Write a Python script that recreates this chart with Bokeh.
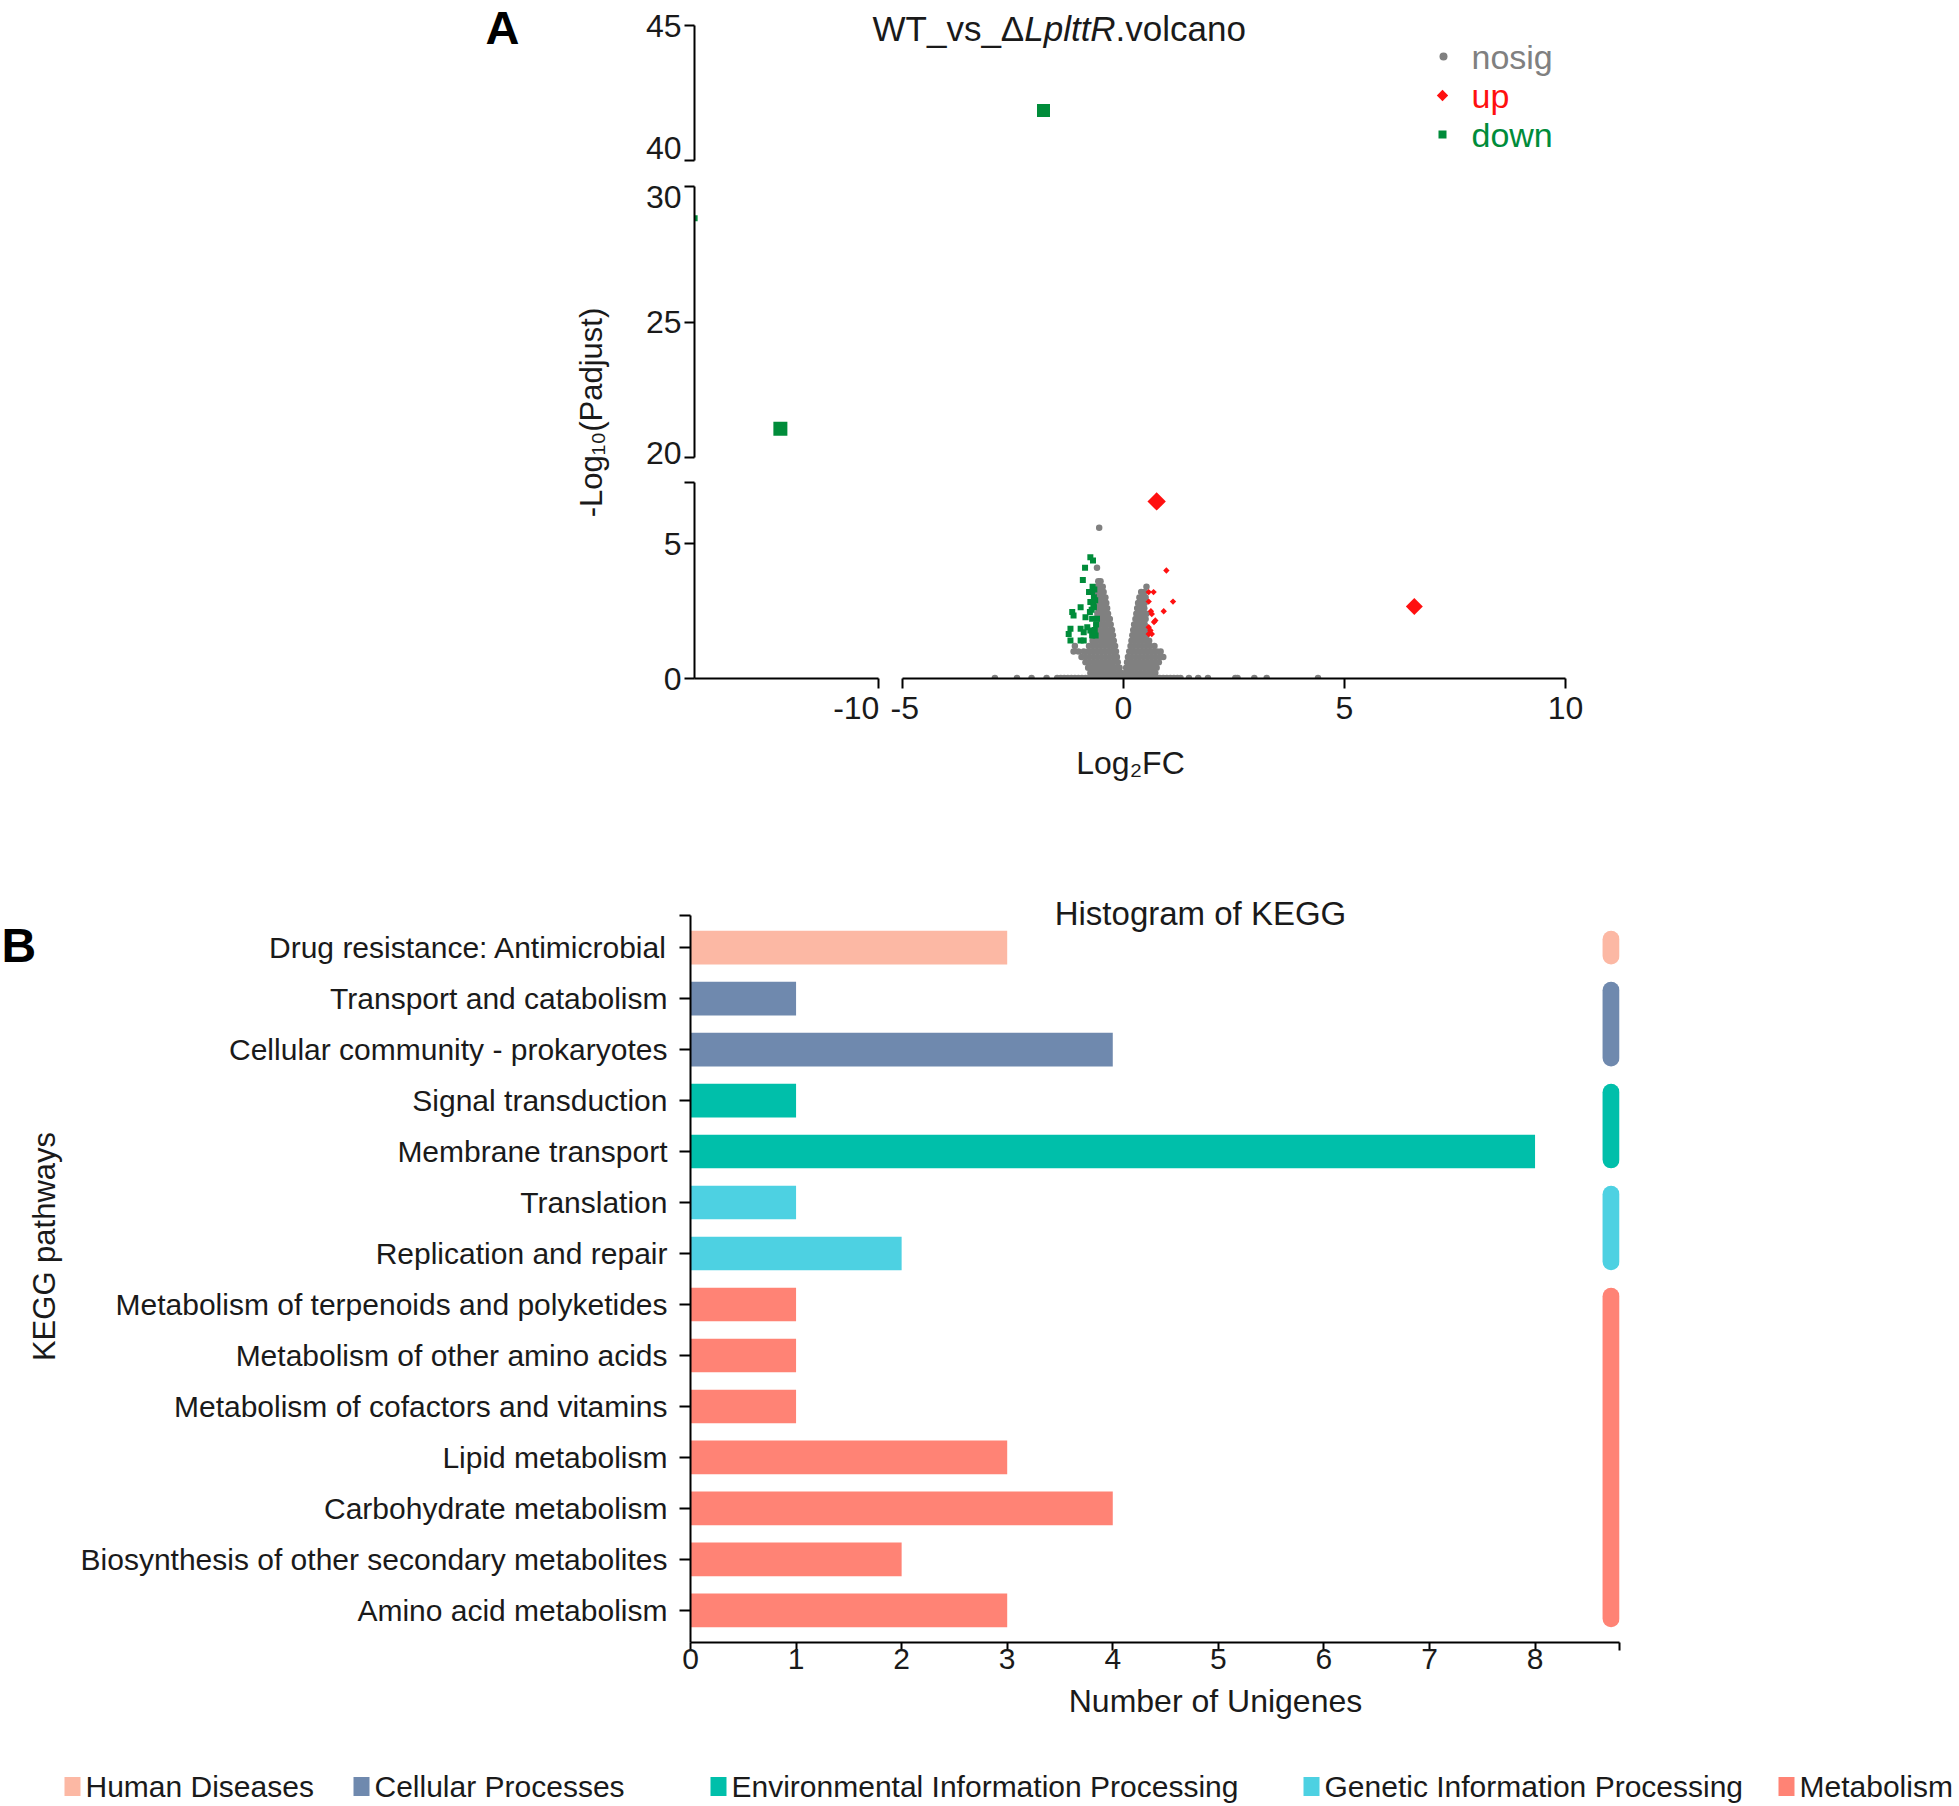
import math
from bokeh.plotting import figure
from bokeh.layouts import column, row
from bokeh.models import Range1d, FixedTicker, Label
from bokeh.core.properties import value
from bokeh.embed import file_html
from bokeh.resources import INLINE

# ============================ DATA ============================
volcano_title = ["WT_vs_\u0394", "LplttR", ".volcano"]
volcano_classes = ["nosig", "up", "down"]

# nosig genes (log2FC, -log10 Padjust)
nosig_points = [
    (-2.91, 0.02), (-2.41, 0.02), (-2.08, 0.02), (-1.74, 0.02), (-1.50, 0.02), (-1.42, 0.02),
    (-1.34, 0.02), (-1.26, 0.02), (-1.18, 0.02), (-1.10, 0.02), (-1.02, 0.02), (-0.94, 0.02),
    (-0.86, 0.02), (-0.78, 0.02), (-0.70, 0.02), (-0.62, 0.02), (-0.54, 0.02), (-0.46, 0.02),
    (-0.38, 0.02), (-0.30, 0.02), (-0.22, 0.02), (-0.14, 0.02), (-0.06, 0.02), (0.02, 0.02),
    (0.10, 0.02), (0.18, 0.02), (0.26, 0.02), (0.34, 0.02), (0.42, 0.02), (0.50, 0.02),
    (0.58, 0.02), (0.66, 0.02), (0.74, 0.02), (0.82, 0.02), (0.90, 0.02), (0.98, 0.02),
    (1.06, 0.02), (1.14, 0.02), (1.22, 0.02), (1.29, 0.02), (1.48, 0.02), (1.69, 0.02),
    (1.91, 0.02), (2.53, 0.02), (2.58, 0.02), (2.96, 0.02), (3.24, 0.02), (4.40, 0.02),
    (-0.75, 0.2), (-0.66, 0.2), (-0.57, 0.2), (-0.48, 0.2), (-0.39, 0.2), (-0.30, 0.2), (-0.21, 0.2), (-0.12, 0.2), (-0.05, 0.2),
    (-0.80, 0.4), (-0.71, 0.4), (-0.62, 0.4), (-0.53, 0.4), (-0.44, 0.4), (-0.35, 0.4), (-0.26, 0.4), (-0.17, 0.4), (-0.09, 0.4),
    (-0.86, 0.6), (-0.77, 0.6), (-0.68, 0.6), (-0.59, 0.6), (-0.50, 0.6), (-0.41, 0.6), (-0.32, 0.6), (-0.23, 0.6), (-0.13, 0.6),
    (-0.95, 0.8), (-0.86, 0.8), (-0.77, 0.8), (-0.68, 0.8), (-0.59, 0.8), (-0.50, 0.8), (-0.41, 0.8), (-0.32, 0.8), (-0.23, 0.8), (-0.15, 0.8),
    (-1.13, 1.0), (-1.02, 1.0), (-0.90, 1.0), (-0.80, 1.0), (-0.70, 1.0), (-0.61, 1.0), (-0.52, 1.0), (-0.43, 1.0), (-0.34, 1.0), (-0.25, 1.0), (-0.17, 1.0),
    (-1.10, 1.2), (-0.78, 1.2), (-0.69, 1.2), (-0.60, 1.2), (-0.51, 1.2), (-0.42, 1.2), (-0.33, 1.2), (-0.25, 1.2), (-0.19, 1.2),
    (-0.70, 1.4), (-0.62, 1.4), (-0.54, 1.4), (-0.46, 1.4), (-0.38, 1.4), (-0.30, 1.4), (-0.22, 1.4),
    (-0.64, 1.6), (-0.56, 1.6), (-0.48, 1.6), (-0.40, 1.6), (-0.32, 1.6), (-0.24, 1.6),
    (-0.62, 1.8), (-0.54, 1.8), (-0.46, 1.8), (-0.38, 1.8), (-0.30, 1.8), (-0.26, 1.8),
    (-0.61, 2.0), (-0.53, 2.0), (-0.45, 2.0), (-0.37, 2.0), (-0.29, 2.0),
    (-0.60, 2.2), (-0.52, 2.2), (-0.44, 2.2), (-0.36, 2.2), (-0.31, 2.2),
    (-0.59, 2.4), (-0.51, 2.4), (-0.43, 2.4), (-0.35, 2.4),
    (-0.58, 2.6), (-0.51, 2.6), (-0.44, 2.6), (-0.37, 2.6),
    (-0.58, 2.8), (-0.51, 2.8), (-0.44, 2.8), (-0.39, 2.8),
    (-0.58, 3.0), (-0.51, 3.0), (-0.44, 3.0), (-0.41, 3.0),
    (-0.59, 3.2), (-0.52, 3.2), (-0.45, 3.2),
    (-0.60, 3.4), (-0.53, 3.4), (-0.47, 3.4),
    (-0.57, 3.6), (-0.52, 3.6),
    (-0.60, 4.10), (-0.55, 5.58),
    (0.04, 0.2), (0.12, 0.2), (0.20, 0.2), (0.29, 0.2), (0.38, 0.2), (0.47, 0.2), (0.56, 0.2), (0.65, 0.2), (0.72, 0.2),
    (0.06, 0.4), (0.14, 0.4), (0.23, 0.4), (0.32, 0.4), (0.41, 0.4), (0.50, 0.4), (0.59, 0.4), (0.68, 0.4), (0.75, 0.4),
    (0.08, 0.6), (0.17, 0.6), (0.26, 0.6), (0.35, 0.6), (0.44, 0.6), (0.53, 0.6), (0.62, 0.6), (0.71, 0.6), (0.80, 0.6),
    (0.10, 0.8), (0.19, 0.8), (0.28, 0.8), (0.37, 0.8), (0.46, 0.8), (0.55, 0.8), (0.64, 0.8), (0.73, 0.8), (0.82, 0.8), (0.90, 0.8),
    (0.13, 1.0), (0.22, 1.0), (0.31, 1.0), (0.40, 1.0), (0.49, 1.0), (0.58, 1.0), (0.67, 1.0), (0.76, 1.0), (0.84, 1.0),
    (0.16, 1.2), (0.24, 1.2), (0.33, 1.2), (0.42, 1.2), (0.51, 1.2), (0.60, 1.2), (0.70, 1.2),
    (0.18, 1.4), (0.26, 1.4), (0.34, 1.4), (0.42, 1.4), (0.50, 1.4), (0.58, 1.4),
    (0.20, 1.6), (0.28, 1.6), (0.36, 1.6), (0.44, 1.6), (0.52, 1.6),
    (0.22, 1.8), (0.30, 1.8), (0.38, 1.8), (0.46, 1.8), (0.53, 1.8),
    (0.24, 2.0), (0.32, 2.0), (0.40, 2.0), (0.48, 2.0),
    (0.27, 2.2), (0.35, 2.2), (0.43, 2.2), (0.50, 2.2),
    (0.29, 2.4), (0.37, 2.4), (0.45, 2.4), (0.52, 2.4),
    (0.31, 2.6), (0.39, 2.6), (0.47, 2.6),
    (0.33, 2.8), (0.41, 2.8), (0.48, 2.8),
    (0.36, 3.0), (0.44, 3.0), (0.50, 3.0),
    (0.40, 3.2), (0.48, 3.2),
    (0.52, 3.4),
]

# up-regulated genes
up_points = [
    (0.97, 4.00), (0.57, 3.20), (0.68, 3.20), (1.12, 2.85), (0.57, 2.85), (0.91, 2.49),
    (0.62, 2.49), (0.64, 2.39), (0.72, 2.15), (0.69, 2.09), (0.57, 1.90), (0.61, 1.78),
    (0.57, 1.65), (0.64, 1.65),
    (0.75, 6.56), (6.58, 2.67),
]

# down-regulated genes
down_points = [
    (-0.75, 4.49), (-0.69, 4.37), (-0.87, 4.10), (-0.92, 3.65), (-0.71, 3.20), (-0.78, 3.20),
    (-0.67, 3.01), (-0.75, 2.83), (-0.67, 2.64), (-0.97, 2.64), (-1.16, 2.46), (-1.13, 2.33),
    (-0.76, 2.46), (-0.86, 2.27), (-0.71, 2.21), (-0.60, 2.21), (-1.20, 1.84), (-1.24, 1.65),
    (-0.97, 1.84), (-0.90, 1.71), (-0.82, 1.90), (-0.75, 1.78), (-0.71, 1.59), (-1.20, 1.41),
    (-0.97, 1.41), (-0.90, 1.41), (-0.63, 1.59), (-0.66, 3.30), (-0.70, 3.40), (-0.64, 2.90),
    (-0.68, 2.70), (-0.72, 2.55), (-0.62, 2.00), (-0.65, 1.80),
    (-1.81, 41.85), (-12.22, 21.06), (-14.16, 28.83),
]

# broken-axis segments
y_seg_upper = (40, 45)
y_seg_middle = (20, 30)
y_seg_lower = (0, 7.26)
x_seg_left = (-14.163, -10)
x_seg_right = (-5, 10)
y_ticks_upper = [40, 45]
y_ticks_middle = [20, 25, 30]
y_ticks_lower = [0, 5]
x_ticks_left = [-10]
x_ticks_right = [-5, 0, 5, 10]

# KEGG histogram (top to bottom)
kegg_terms = [
    "Drug resistance: Antimicrobial",
    "Transport and catabolism",
    "Cellular community - prokaryotes",
    "Signal transduction",
    "Membrane transport",
    "Translation",
    "Replication and repair",
    "Metabolism of terpenoids and polyketides",
    "Metabolism of other amino acids",
    "Metabolism of cofactors and vitamins",
    "Lipid metabolism",
    "Carbohydrate metabolism",
    "Biosynthesis of other secondary metabolites",
    "Amino acid metabolism",
]
kegg_counts = [3, 1, 4, 1, 8, 1, 2, 1, 1, 1, 3, 4, 2, 3]
kegg_class = [
    "Human Diseases", "Cellular Processes", "Cellular Processes",
    "Environmental Information Processing", "Environmental Information Processing",
    "Genetic Information Processing", "Genetic Information Processing",
    "Metabolism", "Metabolism", "Metabolism", "Metabolism", "Metabolism", "Metabolism", "Metabolism",
]
class_names = ["Human Diseases", "Cellular Processes", "Environmental Information Processing",
               "Genetic Information Processing", "Metabolism"]
kegg_x_ticks = [0, 1, 2, 3, 4, 5, 6, 7, 8]

# ============================ STYLE ============================
FONT = "Liberation Sans"
INK = "#1a1a1a"
C_NOSIG, C_UP, C_DOWN = "#808080", "#ff1010", "#008c3a"
class_colors = ["#fcb8a4", "#6f89ae", "#00bfaa", "#4dd1e2", "#ff8375"]
nosig_px = [6.5] * len(nosig_points)
up_px = [4.5] * 14 + [13, 12]
down_px = [6] * 34 + [13, 14, 6]

# page layout (pixels, page origin at top-left)
PAGE_W, PAGE_H = 1959, 1806
VX_L0, VX_L1, VX_R0, VX_R1 = 694, 878, 902, 1565
VY_U1, VY_M0, VY_M1, VY_L0, VY_L1 = 160, 186, 457, 482, 678
PX_PER_X = (VX_R1 - VX_R0) / (x_seg_right[1] - x_seg_right[0])
PX_PER_Y = 27.0
COL_SPLIT = 628          # label column | plots
LR_SPLIT = 890           # lower-left | lower-right
ROW_UM, ROW_ML, L_BOT, V_BOT = 173, 470, 736, 800


def pmap(p0, p1, d0, d1):
    return lambda px: d0 + (px - p0) * (d1 - d0) / (p1 - p0)


def make_fig(w, h, xr, yr, bl, br, bt, bb, xaxis=True, yaxis=True):
    p = figure(width=w, height=h, x_range=Range1d(*xr), y_range=Range1d(*yr),
               output_backend="svg", toolbar_location=None,
               x_axis_location="below" if xaxis else None,
               y_axis_location="left" if yaxis else None,
               min_border_left=bl, min_border_right=br, min_border_top=bt, min_border_bottom=bb)
    p.frame_align = False
    p.xgrid.visible = False
    p.ygrid.visible = False
    p.outline_line_color = None
    p.background_fill_color = "white"
    p.border_fill_color = "white"
    return p


def style_axis(ax, ticks, size, standoff, tick_out=10, overrides=None, bounds=None):
    ax.ticker = FixedTicker(ticks=ticks)
    ax.axis_line_width = 2
    ax.axis_line_color = "black"
    ax.major_tick_line_width = 2
    ax.major_tick_line_color = "black"
    ax.major_tick_out = tick_out
    ax.major_tick_in = 0
    ax.minor_tick_out = 0
    ax.minor_tick_in = 0
    ax.major_label_text_font = FONT
    ax.major_label_text_font_size = size
    ax.major_label_text_color = INK
    ax.major_label_standoff = standoff
    if overrides:
        ax.major_label_overrides = overrides
    if bounds:
        ax.bounds = bounds


def dash_labels(ticks):
    return {t: str(t) for t in ticks}


series = [
    (nosig_points, nosig_px, C_NOSIG, "circle", 0.0),
    (down_points, down_px, C_DOWN, "square", 0.0),
    (up_points, up_px, C_UP, "square", math.pi / 4),
]


def draw_points(p, xr, yr):
    for pts, sizes, color, marker, ang in series:
        sel = [(x, y, s) for (x, y), s in zip(pts, sizes)
               if xr[0] - 0.01 <= x <= xr[1] + 0.01 and yr[0] - 0.01 <= y <= yr[1] + 0.01]
        if sel:
            p.scatter(x=[a[0] for a in sel], y=[a[1] for a in sel], size=[a[2] for a in sel],
                      marker=marker, angle=ang, fill_color=color, line_color=None)


# ---------------- volcano: upper segment (40-45), frame reaches page top ----------------
u_x0 = x_seg_right[0] - (VX_R0 - VX_L0) / PX_PER_X
u_y1 = y_seg_upper[0] + VY_U1 / PX_PER_Y
U = make_fig(PAGE_W - COL_SPLIT, ROW_UM, (u_x0, x_seg_right[1]), (y_seg_upper[0], u_y1),
             VX_L0 - COL_SPLIT, PAGE_W - VX_R1, 0, ROW_UM - VY_U1, xaxis=False)
# the label at the break edge sits slightly above its tick (as in the original)
style_axis(U.yaxis[0], y_ticks_upper, "32px", 3, bounds=y_seg_upper,
           overrides={y_ticks_upper[0]: f"{y_ticks_upper[0]}\n", y_ticks_upper[1]: f"{y_ticks_upper[1]}"})
U.yaxis[0].major_label_text_line_height = 0.2
draw_points(U, (u_x0, x_seg_right[1]), y_seg_upper)
ux = pmap(VX_L0, VX_R1, u_x0, x_seg_right[1])
uy = pmap(0, VY_U1, u_y1, y_seg_upper[0])

# title with italic strain name
title_x = [872, 872 + 151.7, 872 + 151.7 + 91.4]
for txt, px, style in zip(volcano_title, title_x, ["normal", "italic", "normal"]):
    U.add_layout(Label(x=ux(px), y=uy(28), text=txt, text_font=FONT, text_font_size="35px",
                       text_font_style=style, text_color=INK, text_align="left", text_baseline="middle"))

# legend
leg_y = [56, 95, 134]
U.scatter(x=[ux(1443)], y=[uy(leg_y[0])], size=8, marker="circle", fill_color=C_NOSIG, line_color=None)
U.scatter(x=[ux(1442)], y=[uy(leg_y[1])], size=8, marker="square", angle=math.pi / 4, fill_color=C_UP, line_color=None)
U.scatter(x=[ux(1442)], y=[uy(leg_y[2])], size=8, marker="square", fill_color=C_DOWN, line_color=None)
U.text(x=[ux(1471)] * 3, y=[uy(v) for v in leg_y], text=volcano_classes,
       text_color=[C_NOSIG, C_UP, C_DOWN], text_font=value(FONT), text_font_size=value("34px"),
       text_align="left", text_baseline="middle")

# ---------------- volcano: middle segment (20-30) ----------------
m_x1 = x_seg_left[1] + (VX_R1 - VX_L1) / PX_PER_X
M = make_fig(PAGE_W - COL_SPLIT, ROW_ML - ROW_UM, (x_seg_left[0], m_x1), y_seg_middle,
             VX_L0 - COL_SPLIT, PAGE_W - VX_R1, VY_M0 - ROW_UM, ROW_ML - VY_M1, xaxis=False)
# the label at the break edge sits slightly below its tick
mid_over = dash_labels(y_ticks_middle)
mid_over[y_ticks_middle[-1]] = f"\n{y_ticks_middle[-1]}"
style_axis(M.yaxis[0], y_ticks_middle, "32px", 3, overrides=mid_over)
M.yaxis[0].major_label_text_line_height = 0.15
draw_points(M, (x_seg_left[0], m_x1), y_seg_middle)

# ---------------- volcano: lower segment, left & right ----------------
LL = make_fig(LR_SPLIT - COL_SPLIT, L_BOT - ROW_ML, x_seg_left, y_seg_lower,
              VX_L0 - COL_SPLIT, LR_SPLIT - VX_L1, VY_L0 - ROW_ML, L_BOT - VY_L1)
style_axis(LL.yaxis[0], y_ticks_lower + [y_seg_lower[1]], "32px", 3,
           overrides={y_seg_lower[1]: ""})
style_axis(LL.xaxis[0], x_ticks_left, "32px", 8, overrides=dash_labels(x_ticks_left))
LL.xaxis[0].major_label_text_align = "right"
draw_points(LL, x_seg_left, y_seg_lower)

LR = make_fig(PAGE_W - LR_SPLIT, L_BOT - ROW_ML, x_seg_right, y_seg_lower,
              VX_R0 - LR_SPLIT, PAGE_W - VX_R1, VY_L0 - ROW_ML, L_BOT - VY_L1, yaxis=False)
style_axis(LR.xaxis[0], x_ticks_right, "32px", 8, overrides=dash_labels(x_ticks_right))
draw_points(LR, x_seg_right, y_seg_lower)

# x-axis title strip
XT = make_fig(PAGE_W - COL_SPLIT, V_BOT - L_BOT, (COL_SPLIT, PAGE_W), (V_BOT, L_BOT), 0, 0, 0, 0,
              xaxis=False, yaxis=False)
XT.add_layout(Label(x=1130, y=762, text="Log\u2082FC", text_font=FONT, text_font_size="32px",
                    text_color=INK, text_align="center", text_baseline="middle"))

# ---------------- volcano: left label column ----------------
LAB = make_fig(COL_SPLIT, V_BOT, (0, COL_SPLIT), (V_BOT, 0), 0, 0, 0, 0, xaxis=False, yaxis=False)
LAB.add_layout(Label(x=502, y=0, text="A", text_font=FONT, text_font_size="47px", text_font_style="bold",
                     text_color="black", text_align="center", text_baseline="top"))
LAB.add_layout(Label(x=591, y=412, text="-Log\u2081\u2080(Padjust)", text_font=FONT, text_font_size="31px",
                     text_color=INK, text_align="center", text_baseline="middle", angle=math.pi / 2))

volcano_block = row(LAB, column(U, M, row(LL, LR), XT))

# ---------------- KEGG histogram ----------------
n = len(kegg_terms)
idx = [n - 1 - i for i in range(n)]
color_of = dict(zip(class_names, class_colors))
KX0, KX1, KY0, KY1 = 690, 1619, 915, 1642
K_TOP, K_BOT, K_LEFT = 890, 1684, 70
kx_range = (0, 8.8)
ky_bounds = (-0.63, n - 1 + 0.63)
row_px = (KY1 - KY0) / (ky_bounds[1] - ky_bounds[0])
ky_top = ky_bounds[1] + (KY0 - K_TOP) / row_px
K = make_fig(PAGE_W - K_LEFT, K_BOT - V_BOT, kx_range, (ky_bounds[0], ky_top),
             KX0 - K_LEFT, PAGE_W - KX1, K_TOP - V_BOT, K_BOT - KY1)
K.hbar(y=idx, left=0, right=kegg_counts, height=0.66,
       fill_color=[color_of[c] for c in kegg_class], line_color=None)

cap = 8.5 / row_px
strip_x = 8.72
sx0, sy0, sx1, sy1, scol = [], [], [], [], []
for cname, ccol in zip(class_names, class_colors):
    members = [i for i, c in zip(idx, kegg_class) if c == cname]
    sx0.append(strip_x); sx1.append(strip_x)
    sy0.append(min(members) - 0.33 + cap)
    sy1.append(max(members) + 0.33 - cap)
    scol.append(ccol)
K.segment(x0=sx0, y0=sy0, x1=sx1, y1=sy1, line_color=scol, line_width=17, line_cap="round")

yover = {i: t for i, t in zip(idx, kegg_terms)}
yover[ky_bounds[1]] = ""
style_axis(K.yaxis[0], idx + [ky_bounds[1]], "30px", 12, tick_out=11, overrides=yover, bounds=ky_bounds)
style_axis(K.xaxis[0], kegg_x_ticks + [kx_range[1]], "30px", -2, tick_out=8, overrides={kx_range[1]: ""})

kx = pmap(KX0, KX1, kx_range[0], kx_range[1])
ky = pmap(KY0, KY1, ky_bounds[1], ky_bounds[0])
K.add_layout(Label(x=kx(1200), y=ky(913), text="Histogram of KEGG", text_font=FONT, text_font_size="33px",
                   text_color=INK, text_align="center", text_baseline="middle"))

KL = make_fig(K_LEFT, K_BOT - V_BOT, (0, K_LEFT), (K_BOT, V_BOT), 0, 0, 0, 0, xaxis=False, yaxis=False)
KL.add_layout(Label(x=1, y=945, text="B", text_font=FONT, text_font_size="48px", text_font_style="bold",
                    text_color="black", text_align="left", text_baseline="middle"))
KL.add_layout(Label(x=44, y=1246, text="KEGG pathways", text_font=FONT, text_font_size="31px",
                    text_color=INK, text_align="center", text_baseline="middle", angle=math.pi / 2))

# ---------------- x title + KEGG class legend ----------------
LG = make_fig(PAGE_W, PAGE_H - K_BOT, (0, PAGE_W), (PAGE_H, K_BOT), 0, 0, 0, 0, xaxis=False, yaxis=False)
LG.add_layout(Label(x=1215, y=1700, text="Number of Unigenes", text_font=FONT, text_font_size="32px",
                    text_color=INK, text_align="center", text_baseline="middle"))
leg_cx = [72, 361, 718, 1311, 1786]
leg_cy = 1786
LG.rect(x=leg_cx, y=[leg_cy] * 5, width=16, height=19, fill_color=class_colors, line_color=None)
LG.text(x=[c + 13 for c in leg_cx], y=[leg_cy] * 5, text=class_names, text_font=value(FONT),
        text_font_size=value("30px"), text_color=INK, text_align="left", text_baseline="middle")

layout = column(volcano_block, row(KL, K), LG)
open("out.html", "w").write(file_html(layout, INLINE, title="WT_vs_LplttR volcano and KEGG histogram"))
